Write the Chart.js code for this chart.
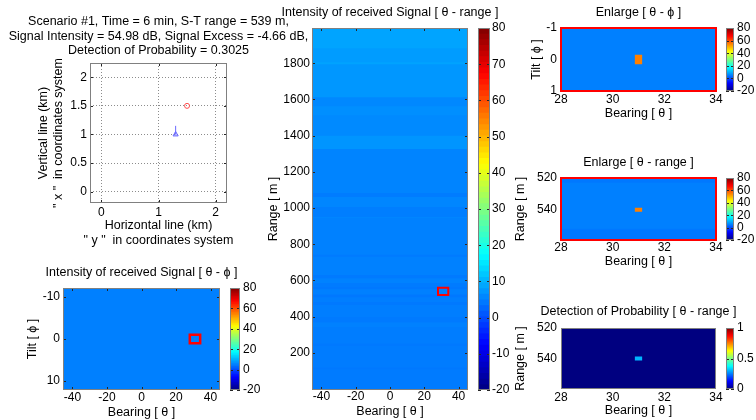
<!DOCTYPE html>
<html>
<head>
<meta charset="utf-8">
<title>Sonar detection scenario</title>
<script src="https://cdn.jsdelivr.net/npm/chart.js@4.4.0/dist/chart.umd.min.js"></script>
<style>
  html, body { margin: 0; padding: 0; background: #fff; }
  #figure { position: relative; width: 756px; height: 420px; overflow: hidden; }
  #figure canvas { position: absolute; }
</style>
</head>
<body>
<div id="figure"></div>
<script>
/* ---------- scenario values ---------- */
const scenarioText = [
    'Scenario #1, Time = 6 min, S-T range = 539 m,',
    'Signal Intensity = 54.98 dB, Signal Excess = -4.66 dB,',
    'Detection of Probability = 0.3025'
];
const targetXY = [1.5, 1.5];      // km
const sensorXY = [1.3, 1.0];      // km
const headingXY = [1.3, 1.15];    // tip of heading vector
const mapTicksX = [0, 1, 2];
const mapTicksY = [0, 0.5, 1, 1.5, 2];

const bearingTicks = [-40, -20, 0, 20, 40];
const tiltTicks = [-10, 0, 10];
const rangeTicks = [200, 400, 600, 800, 1000, 1200, 1400, 1600, 1800];
const zoomBearingTicks = [28, 30, 32, 34];
const zoomTiltTicks = [-1, 0, 1];
const zoomRangeTicks = [520, 540];
const dbTicks = [-20, -10, 0, 10, 20, 30, 40, 50, 60, 70, 80];
const dbTicksCoarse = [-20, 0, 20, 40, 60, 80];
const pdTicks = [0, 0.5, 1];

// beam grid extents
const bearingSpan = [-45.5, 45.5];
const tiltSpan = [-12.1, 12.1];
const rangeSpan = [-5, 1995];

// received level by range band: upper edge (m) and level (dB)
const rangeBandTop = [110, 120, 240, 250, 343, 370, 398, 464, 481, 508, 523, 552, 564, 586, 613, 630,
    731, 742, 946, 951, 1006, 1061, 1083, 1326, 1400, 1513, 1563, 1612, 1795, 1806, 1883, 1995];
const rangeBandLevel = [4.6, 4.3, 4.7, 4.4, 4.8, 5.1, 4.5, 4.9, 4.4, 4.9, 4.3, 5.0, 4.3, 4.6, 5.2, 4.5,
    5.1, 4.6, 5.1, 5.7, 4.9, 5.6, 4.7, 5.4, 7.1, 6.0, 6.5, 5.8, 7.3, 8.5, 7.8, 8.6];
const tiltLevel = 5.0;            // dB over bearing/tilt at the target range

// target cell
const peakBearing = [30.85, 31.15];
const peakTilt = [-0.15, 0.15];
const peakRange = [538.7, 541.3];
const peakLevel = 54.98;
const peakPd = 0.3025;

// enlarged window
const zoomBearing = [28, 34];
const zoomTilt = [-1, 1];
const zoomRange = [520, 560];

/* ---------- helpers ---------- */
const FONT = "'Liberation Sans', Arial, Helvetica, sans-serif";
Chart.defaults.font.family = FONT;
Chart.defaults.color = '#000';

const TICK_FONT = {size: 12};
const TEXT_FONT = {size: 12.5, lineHeight: 1.16, weight: 'normal'};
const TEXT_LH = 12.5 * 1.16;
const TICK_LH = 12 * 1.2;

// matlab style jet colormap
function jet(v, lo, hi) {
    const t = Math.min(1, Math.max(0, (v - lo) / (hi - lo)));
    const ch = c => Math.round(255 * Math.min(1, Math.max(0, 1.5 - Math.abs(4 * t - c))));
    return `rgb(${ch(3)}, ${ch(2)}, ${ch(1)})`;
}

// filled cell: line along the upper edge filled down to y0
function rect(x, y, color) {
    return {
        data: [{x: x[0], y: y[1]}, {x: x[1], y: y[1]}],
        fill: {value: y[0]},
        backgroundColor: color,
        borderWidth: 0,
        pointRadius: 0
    };
}

function outline(x, y, color, width) {
    return {
        data: [{x: x[0], y: y[0]}, {x: x[1], y: y[0]}, {x: x[1], y: y[1]}, {x: x[0], y: y[1]}, {x: x[0], y: y[0]}],
        borderColor: color,
        borderWidth: width,
        borderJoinStyle: 'miter',
        borderCapStyle: 'square',
        pointRadius: 0,
        fill: false
    };
}

// range bands, each filled from its top edge down; lower bands sit on top
function rangeBands(x) {
    return rangeBandTop.map((top, i) =>
        rect(x, [rangeSpan[0], top], jet(rangeBandLevel[i], -20, 80)));
}

/* axes box with inward ticks */
const framePlugin = {
    id: 'frame',
    defaults: {color: '#808080', width: 1, tickColor: '#262626', tickLength: 3},
    afterDatasetsDraw(chart, args, opts) {
        const {ctx, chartArea: a} = chart;
        const sx = chart.scales.x, sy = chart.scales.y;
        ctx.save();
        if (opts.tickLength > 0) {
            ctx.strokeStyle = opts.tickColor;
            ctx.lineWidth = 1;
            ctx.beginPath();
            if (sx.options.display) sx.ticks.forEach(t => {
                const p = Math.round(sx.getPixelForValue(t.value)) + 0.5;
                ctx.moveTo(p, a.top); ctx.lineTo(p, a.top + opts.tickLength);
                ctx.moveTo(p, a.bottom); ctx.lineTo(p, a.bottom - opts.tickLength);
            });
            if (sy.options.display) sy.ticks.forEach(t => {
                const p = Math.round(sy.getPixelForValue(t.value)) + 0.5;
                ctx.moveTo(a.left, p); ctx.lineTo(a.left + opts.tickLength, p);
                ctx.moveTo(a.right, p); ctx.lineTo(a.right - opts.tickLength, p);
            });
            ctx.stroke();
        }
        ctx.strokeStyle = opts.color;
        ctx.lineWidth = opts.width;
        const o = opts.width % 2 ? 0.5 : 0;
        ctx.strokeRect(a.left + o, a.top + o, a.right - a.left - 2 * o, a.bottom - a.top - 2 * o);
        ctx.restore();
    }
};

const figure = document.getElementById('figure');
function addCanvas(box) {
    const c = document.createElement('canvas');
    c.width = box.w;
    c.height = box.h;
    c.style.left = box.x + 'px';
    c.style.top = box.y + 'px';
    figure.appendChild(c);
    return c;
}

const nLines = t => Array.isArray(t) ? t.length : 1;

/* one set of axes; box is the canvas, plot the wanted plot area (page px) */
function axes(spec) {
    const {box, plot, x, y} = spec;
    const bottom = box.y + box.h;
    const padR = box.x + box.w - plot.r;
    const pt = spec.title.y - box.y - TEXT_LH / 2;
    const grid = spec.grid
        ? {display: true, drawTicks: false, color: '#8c8c8c', lineWidth: 1}
        : {display: false, drawTicks: false};
    const border = {display: false, dash: [1, 2]};

    let subtitle = {display: false};
    let xTitle = {display: false};
    let xHeight = bottom - plot.b;
    if (x.title.sub) {
        // wide two line label, kept under the whole canvas
        const sp = x.title.y - TEXT_LH / 2;
        subtitle = {display: true, position: 'bottom', text: x.title.text, font: TEXT_FONT,
            padding: {top: 0, bottom: bottom - sp - TEXT_LH * nLines(x.title.text)}};
        xHeight = sp - plot.b;
    } else {
        xTitle = {display: true, text: x.title.text, font: TEXT_FONT,
            padding: {top: 0, bottom: bottom - x.title.y - TEXT_LH / 2 - TEXT_LH * (nLines(x.title.text) - 1)}};
    }

    return new Chart(addCanvas(box), {
        type: 'line',
        data: {datasets: spec.datasets},
        options: {
            responsive: false,
            animation: false,
            devicePixelRatio: 1,
            events: [],
            layout: {padding: {left: 0, right: 0, top: 0, bottom: 0}},
            plugins: {
                legend: {display: false},
                tooltip: {enabled: false},
                title: {
                    display: true, text: spec.title.text, font: TEXT_FONT,
                    padding: {top: pt, bottom: plot.t - box.y - pt - TEXT_LH * nLines(spec.title.text)}
                },
                subtitle,
                frame: spec.frame || {}
            },
            scales: {
                x: {
                    type: 'linear', min: x.min, max: x.max, bounds: 'data',
                    afterBuildTicks: s => { s.ticks = x.ticks.map(v => ({value: v})); },
                    afterFit: s => { s.height = xHeight; },
                    grid, border,
                    ticks: {font: TICK_FONT, padding: x.tickY - plot.b - TICK_LH / 2,
                        autoSkip: false, maxRotation: 0, callback: v => String(v)},
                    title: xTitle
                },
                y: {
                    type: 'linear', min: y.min, max: y.max, reverse: !!y.reverse, bounds: 'data',
                    afterBuildTicks: s => { s.ticks = y.ticks.map(v => ({value: v})); },
                    afterFit: s => { s.width = plot.l - box.x; },
                    grid, border,
                    ticks: {font: TICK_FONT, padding: plot.l - y.tickX, autoSkip: false, callback: v => String(v)},
                    title: {display: true, text: y.title.text, font: TEXT_FONT,
                        padding: {top: y.title.x - box.x - TEXT_LH / 2, bottom: 0}}
                },
                // empty right margin so titles centre on the plot
                yR: {
                    position: 'right', display: true,
                    ticks: {display: false}, grid: {display: false, drawTicks: false}, border: {display: false},
                    afterFit: s => { s.width = padR; }
                }
            }
        },
        plugins: [framePlugin]
    });
}

function colorbar(plot, lo, hi, ticks, labelX) {
    const box = {x: plot.l, y: plot.t - 20, w: 40, h: plot.b - plot.t + 40};
    const n = 64, step = (hi - lo) / n;
    const datasets = [];
    for (let i = 0; i < n; i++) {
        datasets.push(rect([0, 1], [lo, lo + (i + 1) * step], jet(lo + (i + 0.5) * step, lo, hi)));
    }
    return new Chart(addCanvas(box), {
        type: 'line',
        data: {datasets},
        options: {
            responsive: false,
            animation: false,
            devicePixelRatio: 1,
            events: [],
            layout: {padding: {left: 0, right: 0, top: 20, bottom: 20}},
            plugins: {legend: {display: false}, tooltip: {enabled: false}, frame: {}},
            scales: {
                x: {type: 'linear', display: false, min: 0, max: 1},
                y: {
                    type: 'linear', position: 'right', min: lo, max: hi, bounds: 'data',
                    afterBuildTicks: s => { s.ticks = ticks.map(v => ({value: v})); },
                    afterFit: s => { s.width = box.x + box.w - plot.r; },
                    grid: {display: false, drawTicks: false}, border: {display: false},
                    ticks: {font: TICK_FONT, padding: labelX - plot.r, autoSkip: false, callback: v => String(v)}
                }
            }
        },
        plugins: [framePlugin]
    });
}

/* ---------- geometry of the scenario ---------- */
axes({
    box: {x: 0, y: 0, w: 317, h: 250},
    plot: {l: 90, t: 63, r: 227, b: 203},
    grid: true,
    title: {text: scenarioText, y: 22},
    x: {min: -0.2, max: 2.2, ticks: mapTicksX, tickY: 213,
        title: {text: ['Horizontal line (km)', '" y "  in coordinates system'], y: 226, sub: true}},
    y: {min: -0.2, max: 2.25, ticks: mapTicksY, tickX: 87,
        title: {text: ['Vertical line (km)', '" x "  in coordinates system'], x: 44}},
    datasets: [
        {data: [{x: targetXY[0], y: targetXY[1]}], showLine: false, pointStyle: 'circle', pointRadius: 2.5,
            pointBorderColor: '#ff4d4d', pointBackgroundColor: 'rgba(0,0,0,0)', pointBorderWidth: 1},
        {data: [{x: sensorXY[0], y: sensorXY[1]}], showLine: false, pointStyle: 'triangle', pointRadius: 3,
            pointBorderColor: '#6b6bff', pointBackgroundColor: 'rgba(107,107,255,0.35)', pointBorderWidth: 1},
        {data: [{x: sensorXY[0], y: sensorXY[1]}, {x: headingXY[0], y: headingXY[1]}],
            borderColor: '#6b6bff', borderWidth: 1, pointRadius: 0}
    ]
});

/* ---------- intensity over bearing / tilt ---------- */
axes({
    box: {x: 0, y: 255, w: 283, h: 165},
    plot: {l: 63, t: 288, r: 220, b: 390},
    title: {text: 'Intensity of received Signal [ θ - ϕ ]', y: 272.5},
    x: {min: bearingSpan[0], max: bearingSpan[1], ticks: bearingTicks, tickY: 398,
        title: {text: 'Bearing [ θ ]', y: 413}},
    y: {min: tiltSpan[0], max: tiltSpan[1], reverse: true, ticks: tiltTicks, tickX: 60,
        title: {text: 'Tilt [ ϕ ]', x: 33}},
    datasets: [
        outline(zoomBearing, zoomTilt, '#ff0000', 2.5),
        rect(peakBearing, peakTilt, jet(peakLevel, -20, 80)),
        rect(bearingSpan, tiltSpan, jet(tiltLevel, -20, 80))
    ]
});
colorbar({l: 230, t: 288, r: 240, b: 390}, -20, 80, dbTicksCoarse, 243);

/* ---------- intensity over bearing / range ---------- */
axes({
    box: {x: 260, y: 0, w: 260, h: 420},
    plot: {l: 312, t: 28, r: 468, b: 390},
    title: {text: 'Intensity of received Signal [ θ - range ]', y: 13},
    x: {min: bearingSpan[0], max: bearingSpan[1], ticks: bearingTicks, tickY: 397,
        title: {text: 'Bearing [ θ ]', y: 412}},
    y: {min: rangeSpan[0], max: rangeSpan[1], ticks: rangeTicks, tickX: 310,
        title: {text: 'Range [ m ]', x: 274}},
    datasets: [
        outline(zoomBearing, zoomRange, '#ff0000', 2),
        rect(peakBearing, peakRange, jet(peakLevel, -20, 80)),
        ...rangeBands(bearingSpan)
    ]
});
colorbar({l: 478, t: 28, r: 490, b: 390}, -20, 80, dbTicks, 492);

/* ---------- enlarged windows ---------- */
const redFrame = {color: '#ff0000', width: 2, tickLength: 0};

axes({
    box: {x: 500, y: 0, w: 277, h: 125},
    plot: {l: 561, t: 28, r: 716, b: 91},
    frame: redFrame,
    title: {text: 'Enlarge [ θ - ϕ ]', y: 13},
    x: {min: zoomBearing[0], max: zoomBearing[1], ticks: zoomBearingTicks, tickY: 100,
        title: {text: 'Bearing [ θ ]', y: 114}},
    y: {min: zoomTilt[0], max: zoomTilt[1], reverse: true, ticks: zoomTiltTicks, tickX: 557,
        title: {text: 'Tilt [ ϕ ]', x: 537}},
    datasets: [
        rect(peakBearing, peakTilt, jet(peakLevel, -20, 80)),
        rect(bearingSpan, tiltSpan, jet(tiltLevel, -20, 80))
    ]
});
colorbar({l: 726, t: 28, r: 734, b: 91}, -20, 80, dbTicksCoarse, 737);

axes({
    box: {x: 500, y: 140, w: 277, h: 135},
    plot: {l: 561, t: 178, r: 716, b: 240},
    frame: redFrame,
    title: {text: 'Enlarge [ θ - range ]', y: 163},
    x: {min: zoomBearing[0], max: zoomBearing[1], ticks: zoomBearingTicks, tickY: 248,
        title: {text: 'Bearing [ θ ]', y: 262}},
    y: {min: zoomRange[0], max: 559, reverse: true, ticks: zoomRangeTicks, tickX: 557,
        title: {text: 'Range [ m ]', x: 521}},
    datasets: [
        rect(peakBearing, peakRange, jet(peakLevel, -20, 80)),
        ...rangeBands(bearingSpan)
    ]
});
colorbar({l: 726, t: 178, r: 734, b: 240}, -20, 80, dbTicksCoarse, 737);

/* ---------- detection probability ---------- */
axes({
    box: {x: 500, y: 290, w: 277, h: 130},
    plot: {l: 561, t: 328, r: 716, b: 389},
    frame: {tickLength: 0},
    title: {text: 'Detection of Probability [ θ - range ]', y: 312},
    x: {min: zoomBearing[0], max: zoomBearing[1], ticks: zoomBearingTicks, tickY: 398,
        title: {text: 'Bearing [ θ ]', y: 411}},
    y: {min: zoomRange[0], max: zoomRange[1], reverse: true, ticks: zoomRangeTicks, tickX: 557,
        title: {text: 'Range [ m ]', x: 521}},
    datasets: [
        rect(peakBearing, peakRange, jet(peakPd, 0, 1)),
        rect(bearingSpan, rangeSpan, jet(0, 0, 1))
    ]
});
colorbar({l: 726, t: 328, r: 734, b: 389}, 0, 1, pdTicks, 737);
</script>
</body>
</html>
